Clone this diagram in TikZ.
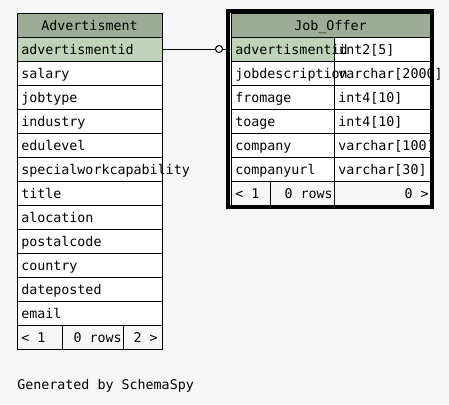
\documentclass[tikz,border=0pt]{standalone}
\usepackage{fontspec}
\setmonofont{DejaVu Sans Mono}
\usepackage{xcolor}
\usetikzlibrary{calc}
\definecolor{bgcol}{HTML}{F7F7F7}
\definecolor{headcol}{HTML}{9EAC96}
\definecolor{keycol}{HTML}{BFD3B8}
\tikzset{
  field/.style={anchor=base west,inner sep=0pt,font=\ttfamily\fontsize{10}{12}\selectfont},
  rfield/.style={anchor=base east,inner sep=0pt,font=\ttfamily\fontsize{10}{12}\selectfont},
  title/.style={anchor=base,inner sep=0pt,font=\ttfamily\fontsize{10}{12}\selectfont},
  thin/.style={line width=0.75pt},
}
\begin{document}
\begin{tikzpicture}[x=0.75pt,y=-0.75pt]
        \fill[bgcol] (0,0) rectangle (449,404);
        \useasboundingbox (0,0) rectangle (449,404);
        % Advertisment
        \fill[headcol] (17,13) rectangle (162,37);
        \fill[keycol] (17,37) rectangle (162,61);
        \fill[white] (17,61) rectangle (162,325);
        \foreach \y in {37,61,...,325}
            \draw[thin] (17,\y) -- (162,\y);
        \draw[thin] (17,13) rectangle (162,349);
        \draw[thin] (62,325) -- (62,349);
        \draw[thin] (123,325) -- (123,349);
        \node[title] (advtitle) at (89.5,30) {Advertisment};
        \foreach \name [count=\i] in {advertismentid,salary,jobtype,industry,edulevel,
            specialworkcapability,title,alocation,postalcode,country,dateposted,email}
            \node[field] (adv\i) at (21,{30+24*\i}) {\name};
        \node[field] (advprev) at (21,342) {< 1};
        \node[rfield] (advrows) at (122,342) {0 rows};
        \node[rfield] (advnext) at (158,342) {2 >};
        % Job_Offer
        \fill[headcol] (231,13) rectangle (430,37);
        \fill[keycol] (231,37) rectangle (334,61);
        \fill[white] (334,37) rectangle (430,61);
        \fill[white] (231,61) rectangle (430,181);
        \foreach \y in {37,61,...,181}
            \draw[thin] (231,\y) -- (430,\y);
        \draw[thin] (231,13) rectangle (430,205);
        \draw[thin] (334,37) -- (334,205);
        \draw[thin] (270,181) -- (270,205);
        \draw[line width=3pt] (228,11) rectangle (432,207);
        \node[title] (jobtitle) at (330.5,30) {Job\_Offer};
        \foreach \name/\type [count=\i] in {advertismentid/int2[5],jobdescription/varchar[2000],
            fromage/int4[10],toage/int4[10],company/varchar[100],companyurl/varchar[30]}
        {
            \node[field] (job\i) at (235,{30+24*\i}) {\name};
            \node[field] (type\i) at (338,{30+24*\i}) {\type};
        }
        \node[field] (jobprev) at (235,198) {< 1};
        \node[rfield] (jobrows) at (333,198) {0 rows};
        \node[rfield] (jobnext) at (429,198) {0 >};
        % relation
        \coordinate (advkey) at (162,49);
        \coordinate (jobkey) at (226,49);
        \node[circle,draw,thin,fill=white,inner sep=0pt,minimum size=5.25pt] (opt) at (219,49) {};
        \draw[thin] (advkey) -- (opt);
        \draw[thin] (opt) -- (jobkey);
        \node[field] (credit) at (17,389) {Generated by SchemaSpy};
\end{tikzpicture}
\end{document}
